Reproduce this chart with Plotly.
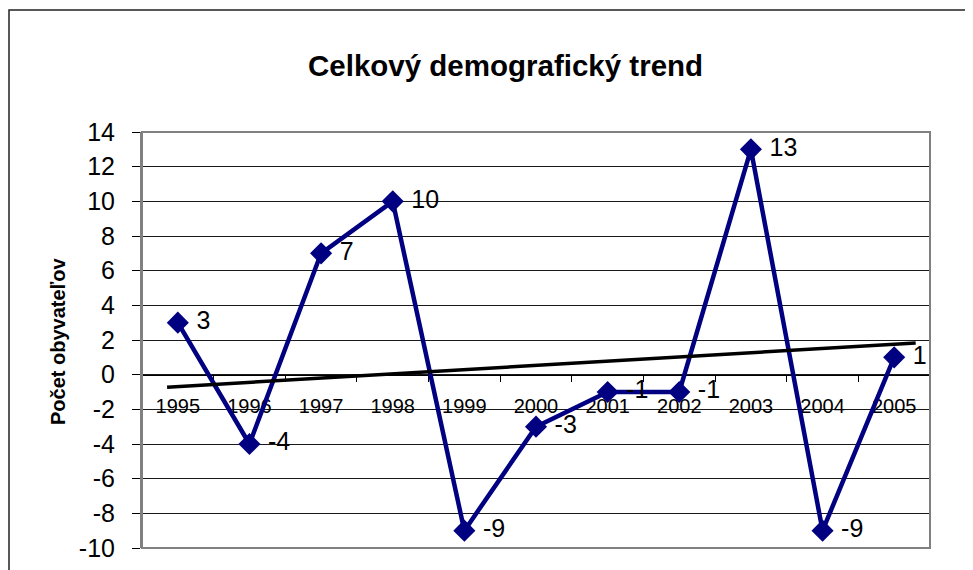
import plotly.graph_objects as go

years = ["1995", "1996", "1997", "1998", "1999", "2000", "2001", "2002", "2003", "2004", "2005"]
values = [3, -4, 7, 10, -9, -3, -1, -1, 13, -9, 1]
trend_x = [-0.15, 10.3]
trend_y = [-0.72, 1.83]
y_ticks = list(range(-10, 15, 2))
y_tick_text = [str(v) for v in y_ticks]

title_text = "Celkový demografický trend"
y_title = "Počet obyvateľov"

FONT = "Arial, 'Liberation Sans', sans-serif"
OFF = 8  # page body margin
W, H = 973 - OFF, 570 - OFF
L, R, T, B = 142 - OFF, 930 - OFF, 132 - OFF, 548 - OFF

fig = go.Figure()

fig.add_trace(go.Scatter(
    x=years, y=values, mode="lines+markers+text",
    line=dict(color="#000080", width=4.5),
    marker=dict(symbol="diamond", size=17, color="#000080"),
    text=[" " + str(v) for v in values], textposition="middle right",
    textfont=dict(family=FONT, size=25, color="#000000"),
    cliponaxis=False, showlegend=False, xaxis="x", yaxis="y",
))

fig.add_trace(go.Scatter(
    x=trend_x, y=trend_y, mode="lines",
    line=dict(color="#000000", width=3.5),
    showlegend=False, xaxis="x2", yaxis="y",
))

def px_x(p):
    return (p - OFF - L) / (R - L)

def px_y(p):
    return (B - (p - OFF)) / (B - T)

fig.update_layout(
    template="none",
    width=W, height=H,
    margin=dict(l=L, r=W - R, t=T, b=H - B, pad=0, autoexpand=False),
    paper_bgcolor="white", plot_bgcolor="white",
    font=dict(family=FONT, color="#000000"),
    xaxis=dict(
        type="category", categoryorder="array", categoryarray=years,
        range=[-0.5, 10.5], anchor="free", position=10 / 24,
        showline=True, linecolor="#000000", linewidth=1,
        ticks="outside", tickson="boundaries", ticklen=6, tickcolor="#000000",
        tickfont=dict(family=FONT, size=20, color="#000000"),
        ticklabelstandoff=13, automargin=False,
        showgrid=False, zeroline=False, layer="below traces",
    ),
    xaxis2=dict(
        range=[-0.5, 10.5], overlaying="x", visible=False, anchor="y",
        automargin=False,
    ),
    yaxis=dict(
        range=[-10, 14], tickvals=y_ticks, ticktext=y_tick_text,
        showline=True, linecolor="#808080", linewidth=2,
        ticks="outside", ticklen=8, tickcolor="#000000",
        tickfont=dict(family=FONT, size=25, color="#000000"),
        ticklabelstandoff=12, automargin=False,
        showgrid=True, gridcolor="#1a1a1a", gridwidth=1, zeroline=False,
    ),
    shapes=[
        dict(type="rect", xref="paper", yref="paper", x0=0, x1=1, y0=0, y1=1,
             line=dict(color="#808080", width=2), layer="above"),
        dict(type="rect", xref="paper", yref="paper",
             x0=px_x(9), x1=px_x(990), y0=px_y(10), y1=px_y(600),
             line=dict(color="#222222", width=1.5)),
    ],
    annotations=[
        dict(text="<b>" + title_text + "</b>", xref="paper", yref="paper",
             x=px_x(505), y=px_y(65), xanchor="center", yanchor="middle",
             showarrow=False, font=dict(family=FONT, size=29.5, color="#000000")),
        dict(text="<b>" + y_title + "</b>", xref="paper", yref="paper",
             x=px_x(58), y=px_y(341), xanchor="center", yanchor="middle",
             textangle=-90, showarrow=False,
             font=dict(family=FONT, size=20, color="#000000")),
    ],
)

fig.write_html("out.html")
